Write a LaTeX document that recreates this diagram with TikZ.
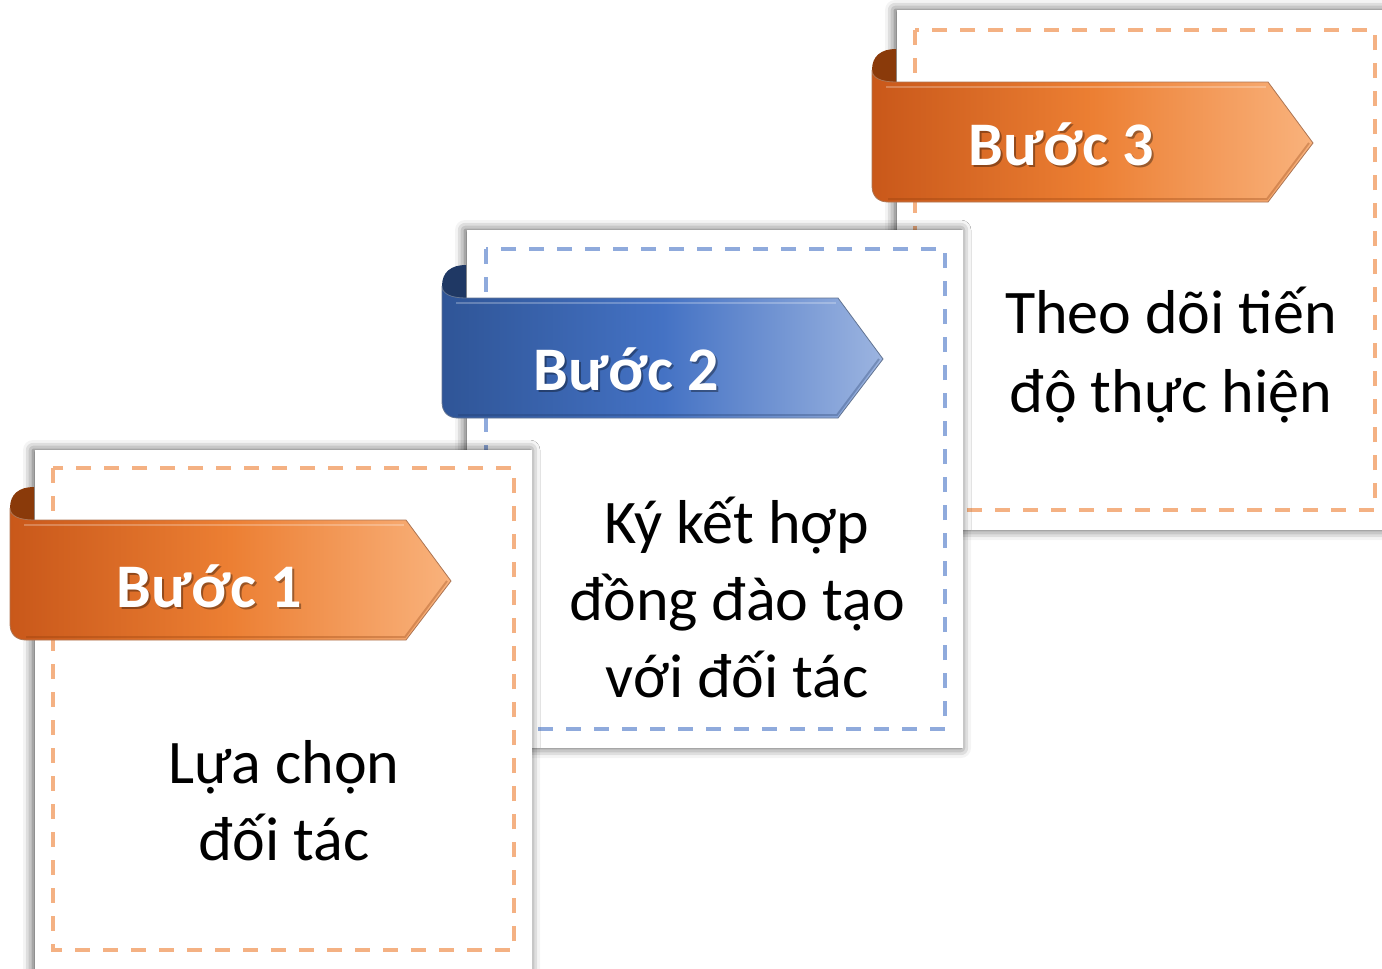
\documentclass[tikz,border=0pt]{standalone}
\usepackage{fontspec}
\setmainfont{Carlito}
\usetikzlibrary{shadows.blur}
\definecolor{orRoll}{HTML}{8A3A0A}
\definecolor{orL}{HTML}{C9581A}
\definecolor{orM}{HTML}{EC7F33}
\definecolor{orR}{HTML}{F9B27C}
\definecolor{blRoll}{HTML}{1F3864}
\definecolor{blL}{HTML}{2F5597}
\definecolor{blM}{HTML}{4472C4}
\definecolor{blR}{HTML}{9CB4E0}
\definecolor{orFrame}{HTML}{F4B183}
\definecolor{blFrame}{HTML}{8FAADC}
\tikzset{
  pics/ribbon/.style args={#1/#2/#3/#4}{code={
    \fill[#1] (0,2) -- (0,-12) .. controls (0,-26) and (9,-33) .. (24,-33) -- (24,2) -- cycle;
    \path[left color=#2, right color=#4, middle color=#3, draw=#1!70, line width=0.8pt]
      (0,-12) -- (0,104) .. controls (0,114) and (6,120) .. (16,120) -- (396,120)
      -- (441,61) -- (396,0) -- (24,0) .. controls (9,0) and (0,-4) .. (0,-12) -- cycle;
    \draw[white, opacity=.25, line width=2.5pt] (14,5) -- (394,5);
    \draw[#1, opacity=.3, line width=2pt] (16,117) -- (395,117) -- (437,61);
  }}
}
\begin{document}
\begin{tikzpicture}[x=1pt,y=-1pt,
    card/.style={fill=white, blur shadow={shadow xshift=-2pt, shadow yshift=0pt,
      shadow blur radius=10pt, shadow opacity=70}},
    frame/.style={line width=3.3pt, dash pattern=on 15pt off 13pt},
    body/.style={align=center, anchor=base, inner sep=0pt},
    tag/.style={font=\bfseries\fontsize{62}{70}\selectfont, text=white, anchor=base, inner sep=0pt},
    tagshade/.style={tag, text=black, opacity=.35}]
  \useasboundingbox (0,0) rectangle (1382,969);

  % step 3
  \path[card] (897,10) rectangle (1400,530);
  \draw[frame, orFrame] (915,30) rectangle (1375,510);
  \pic at (872,82) {ribbon=orRoll/orL/orM/orR};
  \node[tagshade] (s3) at (1063,167) {Bước 3};
  \node[tag] (tag3) at (1061,165) {Bước 3};
  \node[body, font=\fontsize{62}{79}\selectfont] (txt3) at (1171,412) {Theo dõi tiến\\độ thực hiện};

  % step 2
  \path[card] (467,230) rectangle (963,748);
  \draw[frame, blFrame] (486,249) rectangle (945,729);
  \pic at (442,298) {ribbon=blRoll/blL/blM/blR};
  \node[tagshade] (s2) at (628,392) {Bước 2};
  \node[tag] (tag2) at (626,390) {Bước 2};
  \node[body, font=\fontsize{62}{77}\selectfont] (txt2) at (737,697) {Ký kết hợp\\đồng đào tạo\\với đối tác};

  % step 1
  \path[card] (35,450) rectangle (532,990);
  \draw[frame, orFrame] (53,468) rectangle (514,950);
  \pic at (10,520) {ribbon=orRoll/orL/orM/orR};
  \node[tagshade] (s1) at (211,609) {Bước 1};
  \node[tag] (tag1) at (209,607) {Bước 1};
  \node[body, font=\fontsize{62}{77}\selectfont] (txt1) at (284,860) {Lựa chọn\\đối tác};
\end{tikzpicture}
\end{document}
